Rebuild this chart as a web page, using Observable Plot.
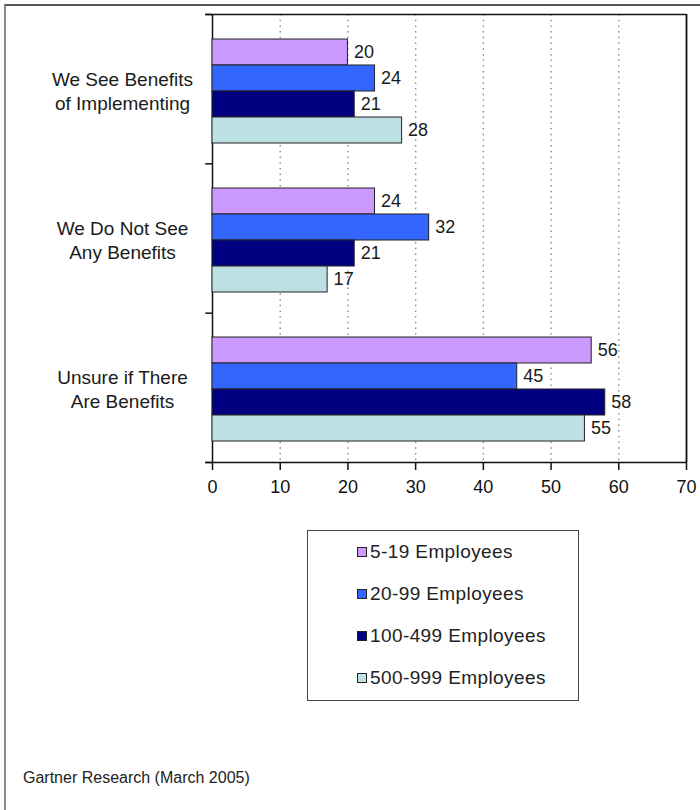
<!DOCTYPE html>
<html>
<head>
<meta charset="utf-8">
<script src="https://cdn.jsdelivr.net/npm/d3@7"></script>
<script src="https://cdn.jsdelivr.net/npm/@observablehq/plot@0.6"></script>
<style>
  html, body { margin: 0; padding: 0; background: #fff; overflow: hidden; }
  body { width: 700px; height: 810px; position: relative; font-family: "Liberation Sans", Arial, sans-serif; }
  #frame { position: absolute; left: 4px; top: 4px; width: 800px; height: 900px;
           border-left: 2px solid #8a8a8a; border-top: 2px solid #555; box-sizing: border-box; }
  .layer { position: absolute; left: 0; top: 0; }
  #legend { position: absolute; left: 307px; top: 530px; width: 272px; height: 171px;
            border: 1.5px solid #444; box-sizing: border-box; background: #fff; }
  .row { height: 42px; display: flex; align-items: center; padding-left: 49px; font-size: 19px; letter-spacing: 0.4px; color: #222; }
  .sw { width: 8px; height: 8px; border: 1px solid #222; margin-right: 3px; }
  #caption { position: absolute; left: 23px; top: 767px; font-size: 16px; line-height: 22px; color: #222; }
</style>
</head>
<body>
<div id="frame"></div>
<div id="back" class="layer"></div>
<div id="front" class="layer"></div>
<div id="legend"></div>
<div id="caption">Gartner Research (March 2005)</div>
<script>
// ---- Data ----
const categories = ["We See Benefits of Implementing", "We Do Not See Any Benefits", "Unsure if There Are Benefits"];
const categoryLabels = ["We See Benefits\nof Implementing", "We Do Not See\nAny Benefits", "Unsure if There\nAre Benefits"];
const seriesNames = ["5-19 Employees", "20-99 Employees", "100-499 Employees", "500-999 Employees"];
const values5to19 = [20, 24, 56];
const values20to99 = [24, 32, 45];
const values100to499 = [21, 21, 58];
const values500to999 = [28, 17, 55];
const seriesColors = ["#CC99FF", "#3366FF", "#000080", "#BDE0E4"];
const xTicks = [0, 10, 20, 30, 40, 50, 60, 70];

const seriesValues = [values5to19, values20to99, values100to499, values500to999];
const rows = [];
categories.forEach((c, ci) => {
  seriesNames.forEach((s, si) => rows.push({category: c, series: s, value: seriesValues[si][ci]}));
});

const W = 700, H = 510;
const margins = {marginTop: 14, marginRight: 14, marginBottom: 48, marginLeft: 212};
const FONT = "'Liberation Sans', Arial, sans-serif";
const xDomain = [xTicks[0], xTicks[xTicks.length - 1]];
const boundaries = d3.range(categories.length + 1);

// ---- Back layer: grid, axes, frame ----
const back = Plot.plot({
  width: W, height: H, ...margins,
  style: {fontFamily: FONT, fontSize: "18px", background: "transparent", color: "#111"},
  x: {domain: xDomain, ticks: xTicks, tickSize: 8, tickPadding: 10, label: null},
  y: {domain: [0, categories.length], reverse: true, axis: null},
  marks: [
    Plot.ruleX(xTicks.filter(t => t > xDomain[0] && t < xDomain[1]),
      {stroke: "#8a8a8a", strokeWidth: 1.4, strokeDasharray: "1.5,4.2"}),
    Plot.ruleX([xDomain[0]], {stroke: "#111", strokeWidth: 1.5}),
    Plot.ruleX([xDomain[1]], {stroke: "#111", strokeWidth: 1.8}),
    Plot.ruleY(boundaries, {x1: -1, x2: 0, stroke: "#111", strokeWidth: 1.5}),
    Plot.ruleY([0, categories.length], {x1: -1, x2: xDomain[1], stroke: "#111", strokeWidth: 1.5}),
    Plot.axisX({ticks: xTicks, tickSize: 8, tickPadding: 10, fontSize: 18, stroke: "#111", strokeWidth: 1.5, label: null})
  ]
});
document.getElementById("back").appendChild(back);

// ---- Front layer: bars and labels ----
const front = Plot.plot({
  width: W, height: H, ...margins,
  style: {fontFamily: FONT, fontSize: "18px", background: "transparent"},
  x: {domain: xDomain, axis: null},
  y: {domain: seriesNames, axis: null, paddingInner: 0, paddingOuter: 0.77, align: 0.53},
  fy: {domain: categories, axis: null, padding: 0},
  color: {domain: seriesNames, range: seriesColors},
  marks: [
    Plot.barX(rows, {x: "value", y: "series", fy: "category", fill: "series", stroke: "#222", strokeWidth: 1}),
    Plot.text(rows, {x: "value", y: "series", fy: "category", text: d => String(d.value),
      dx: 6, textAnchor: "start", fontSize: 18, fill: "#1a1a1a"}),
    Plot.text(categories, {fy: d => d, text: d => categoryLabels[categories.indexOf(d)],
      frameAnchor: "left", dx: -90, textAnchor: "middle", fontSize: 19, lineHeight: 1.27, fill: "#1a1a1a"})
  ]
});
document.getElementById("front").appendChild(front);

// ---- Legend ----
const legend = document.getElementById("legend");
seriesNames.forEach((s, i) => {
  const row = document.createElement("div");
  row.className = "row";
  const sw = document.createElement("span");
  sw.className = "sw";
  sw.style.background = seriesColors[i];
  const t = document.createElement("span");
  t.textContent = s;
  row.appendChild(sw);
  row.appendChild(t);
  legend.appendChild(row);
});
</script>
</body>
</html>
